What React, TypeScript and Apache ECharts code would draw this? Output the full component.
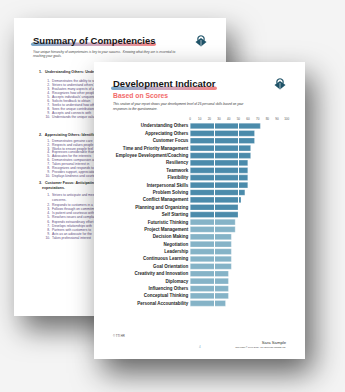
import React, { useEffect, useRef } from "react";
import * as echarts from "echarts";

const categories = [
  "Understanding Others",
  "Appreciating Others",
  "Customer Focus",
  "Time and Priority Management",
  "Employee Development/Coaching",
  "Resiliency",
  "Teamwork",
  "Flexibility",
  "Interpersonal Skills",
  "Problem Solving",
  "Conflict Management",
  "Planning and Organizing",
  "Self Starting",
  "Futuristic Thinking",
  "Project Management",
  "Decision Making",
  "Negotiation",
  "Leadership",
  "Continuous Learning",
  "Goal Orientation",
  "Creativity and Innovation",
  "Diplomacy",
  "Influencing Others",
  "Conceptual Thinking",
  "Personal Accountability",
];

const scores = [73, 67, 67, 63, 63, 60, 60, 60, 60, 57, 53, 50, 50, 47, 47, 43, 43, 43, 43, 43, 40, 40, 40, 40, 37];

const highlightedCount = 13; // top competencies shown in the darker tone
const dividerValues = [25, 50];

const backHeaders = [
  "1.   Understanding Others: Understands",
  "2.   Appreciating Others: Identifies",
  "3.   Customer Focus: Anticipating,",
];

const backItems1 = [
  "Demonstrates the ability to see",
  "Strives to understand others'",
  "Evaluates many aspects of a",
  "Recognizes how other people",
  "Accepts individuals' uniqueness",
  "Solicits feedback to obtain",
  "Seeks to understand how others",
  "Sees the unique contributions",
  "Accepts and connects with",
  "Understands the unique value",
];

const backItems2 = [
  "Demonstrates genuine care",
  "Respects and values people",
  "Works to ensure people feel",
  "Expresses considerable thanks",
  "Advocates for the interests",
  "Demonstrates compassion and",
  "Takes personal interest in",
  "Recognizes and responds to",
  "Provides support, appreciation",
  "Displays kindness and courtesy",
];

const backItems3 = [
  "Strives to anticipate and meet",
  "Responds to customers in a",
  "Follows through on commitments",
  "Is patient and courteous with",
  "Resolves issues and complaints",
  "Expends extraordinary effort",
  "Develops relationships with",
  "Partners with customers to",
  "Acts as an advocate for the",
  "Takes professional interest",
];

const FONT = "'Liberation Sans', Arial, sans-serif";

function txt(x: number, y: number, text: string, size: number, color: string, opts: any = {}) {
  return {
    type: "text",
    x,
    y,
    z: opts.z ?? 4,
    style: {
      text,
      fill: color,
      font: `${opts.italic ? "italic " : ""}${opts.bold ? "bold " : ""}${size}px ${FONT}`,
      textAlign: opts.align || "left",
      textVerticalAlign: "middle",
    },
  };
}

function logo(cx: number, cy: number, z: number) {
  return {
    type: "group",
    x: cx,
    y: cy,
    z,
    children: [
      {
        type: "polygon",
        z,
        shape: { points: [[0, -3], [5.5, 1], [0, 5.5], [-5.5, 1]] },
        style: { fill: "#1f5368" },
      },
      {
        type: "circle",
        z,
        shape: { cx: 0, cy: -2, r: 3.2 },
        style: { fill: "none", stroke: "#1f5368", lineWidth: 1.2 },
      },
      {
        type: "line",
        z,
        shape: { x1: 0, y1: -1, x2: 0, y2: 5 },
        style: { stroke: "#ffffff", lineWidth: 0.6 },
      },
    ],
  };
}

function underline(x: number, y: number, w: number, z: number) {
  return {
    type: "rect",
    z,
    shape: { x, y, width: w, height: 3.6, r: 1.8 },
    style: {
      fill: new echarts.graphic.LinearGradient(0, 0, 1, 0, [
        { offset: 0, color: "rgba(95,150,190,0.85)" },
        { offset: 0.5, color: "rgba(190,140,170,0.75)" },
        { offset: 1, color: "rgba(240,110,110,0.85)" },
      ]),
    },
  };
}

export default function App() {
  const ref = useRef<HTMLDivElement>(null);

  useEffect(() => {
    if (!ref.current) return;
    const chart = echarts.init(ref.current, undefined, { renderer: "svg" });

    const back: any[] = [];
    back.push({
      type: "rect",
      z: 1,
      shape: { x: 14, y: 18, width: 212, height: 298 },
      style: {
        fill: "#ffffff",
        shadowBlur: 28,
        shadowColor: "rgba(0,0,0,0.55)",
        shadowOffsetX: 8,
        shadowOffsetY: 14,
      },
    });
    back.push({ ...underline(31, 42.5, 125, 2) });
    back.push(txt(33, 40.5, "Summary of Competencies", 9.5, "#161616", { bold: true, z: 2 }));
    back.push(logo(201, 41, 2));
    back.push(txt(33, 51.5, "Your unique hierarchy of competencies is key to your success.  Knowing what they are is essential to", 3.2, "#444", { italic: true, z: 2 }));
    back.push(txt(33, 56, "reaching your goals.", 3.2, "#444", { italic: true, z: 2 }));

    back.push(txt(39, 72, backHeaders[0], 3.6, "#2a2a2a", { bold: true, z: 2 }));
    backItems1.forEach((t, i) => {
      back.push(txt(50, 81 + i * 4, `${i + 1}.`, 3.3, "#5b4a80", { align: "right", z: 2 }));
      back.push(txt(52, 81 + i * 4, t, 3.3, "#5b4a80", { z: 2 }));
    });
    back.push(txt(39, 135, backHeaders[1], 3.6, "#2a2a2a", { bold: true, z: 2 }));
    backItems2.forEach((t, i) => {
      back.push(txt(50, 140.7 + i * 3.85, `${i + 1}.`, 3.3, "#5b4a80", { align: "right", z: 2 }));
      back.push(txt(52, 140.7 + i * 3.85, t, 3.3, "#5b4a80", { z: 2 }));
    });
    back.push(txt(39, 182.5, backHeaders[2], 3.6, "#2a2a2a", { bold: true, z: 2 }));
    back.push(txt(42, 188, "expectations.", 3.6, "#2a2a2a", { bold: true, z: 2 }));
    backItems3.forEach((t, i) => {
      const y = i === 0 ? 195 : 205 + (i - 1) * 4.1;
      back.push(txt(50, y, `${i + 1}.`, 3.3, "#5b4a80", { align: "right", z: 2 }));
      back.push(txt(52, y, t, 3.3, "#5b4a80", { z: 2 }));
      if (i === 0) back.push(txt(52, 200, "concerns.", 3.3, "#5b4a80", { z: 2 }));
    });

    const front: any[] = [];
    front.push({
      type: "rect",
      z: 3,
      shape: { x: 94, y: 62, width: 211, height: 297 },
      style: {
        fill: "#ffffff",
        shadowBlur: 30,
        shadowColor: "rgba(0,0,0,0.6)",
        shadowOffsetX: 8,
        shadowOffsetY: 14,
      },
    });
    front.push(underline(111, 86.5, 106, 4));
    front.push(txt(113, 83.5, "Development Indicator", 9.5, "#161616", { bold: true, z: 5 }));
    front.push(txt(113, 95, "Based on Scores", 6.8, "#f26b6b", { bold: true, z: 5 }));
    front.push(logo(280, 84, 5));
    front.push(txt(113, 104, "This section of your report shows your development level of 25 personal skills based on your", 3.2, "#333", { italic: true, z: 5 }));
    front.push(txt(113, 108.5, "responses to the questionnaire.", 3.2, "#333", { italic: true, z: 5 }));
    front.push(txt(113, 335.5, "© TTI HR", 2.8, "#444", { z: 5 }));
    front.push(txt(286, 342.5, "Sara Sample", 4.2, "#333", { align: "right", z: 5 }));
    front.push(txt(286, 347.5, "Copyright © 1990-2024. TTI Success Insights Ltd.", 2.3, "#444", { align: "right", z: 5 }));
    front.push(txt(199, 347, "4", 3, "#7fb0c8", { z: 5 }));

    chart.setOption({
      animation: false,
      backgroundColor: "#f4f4f4",
      graphic: { elements: [...back, ...front] },
      grid: { left: 190, right: 58.3, top: 122.3, bottom: 85, containLabel: false },
      xAxis: {
        type: "value",
        position: "top",
        min: 0,
        max: 100,
        interval: 10,
        z: 10,
        axisLine: { show: false },
        axisTick: { show: false },
        splitLine: { show: false },
        axisLabel: { fontSize: 3, color: "#555", margin: 1.8, fontFamily: FONT },
      },
      yAxis: {
        type: "category",
        inverse: true,
        data: categories,
        z: 10,
        axisLine: { show: false },
        axisTick: { show: false },
        splitLine: { show: false },
        axisLabel: { fontSize: 4.5, fontWeight: "bold", color: "#1e1e1e", margin: 1.7, fontFamily: FONT },
      },
      series: [
        {
          type: "bar",
          data: scores,
          z: 10,
          barCategoryGap: "16%",
          itemStyle: {
            color: (p: any) => (p.dataIndex < highlightedCount ? "#4b8bab" : "#85b3c7"),
            borderColor: "rgba(255,255,255,0.55)",
            borderWidth: 0.5,
          },
          markLine: {
            z: 12,
            silent: true,
            symbol: "none",
            label: { show: false },
            lineStyle: { color: "#ffffff", width: 1, type: "solid" },
            data: dividerValues.map((v) => ({ xAxis: v })),
          },
        },
      ],
    });

    return () => chart.dispose();
  }, []);

  return <div ref={ref} style={{ position: "absolute", left: 0, top: 0, width: 345, height: 392 }} />;
}
